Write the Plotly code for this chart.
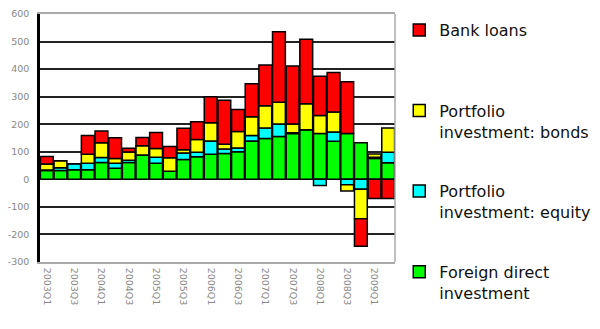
import plotly.graph_objects as go

# Quarters 2003Q1 .. 2009Q2
quarters = [f"{y}Q{q}" for y in range(2003, 2010) for q in range(1, 5)][:26]

# y-axis ticks (plain hyphen minus, as in the original)
y_ticks = [-300, -200, -100, 0, 100, 200, 300, 400, 500, 600]
y_labels = [str(v) for v in y_ticks]

# Values (billions)
fdi = [32, 32, 35, 35, 61, 40, 61, 88, 58, 29, 72, 82, 91, 94, 100, 139,
       148, 155, 166, 180, 166, 138, 166, 133, 76, 60]
equity = [2, 10, 22, 23, 18, 18, 8, 0, 22, 0, 24, 16, 48, 16, 14, 20,
          38, 46, 3, 0, -22, 34, -20, -36, 4, 38]
bonds = [22, 25, 0, 33, 54, 18, 30, 34, 32, 49, 11, 47, 66, 17, 60, 68,
         81, 79, 32, 94, 66, 72, -22, -107, 12, 88]
loans = [27, 0, 0, 68, 42, 75, 14, 30, 58, 41, 78, 64, 95, 160, 79, 120,
         148, 256, 210, 234, 142, 144, 188, -100, -70, -70]

series = [
    ("Foreign direct<br>investment", fdi, "#00FF00"),
    ("Portfolio<br>investment: equity", equity, "#00FFFF"),
    ("Portfolio<br>investment: bonds", bonds, "#FFFF00"),
    ("Bank loans<br> ", loans, "#FF0000"),
]

fig = go.Figure()
for i, (name, vals, col) in enumerate(series):
    fig.add_trace(go.Bar(
        x=quarters, y=vals, name=name, legendgroup=str(i),
        legendrank=len(series) - i,
        marker=dict(color=col, line=dict(color="black", width=1.5)),
    ))

# page body has an 8px margin, so the figure is 8px smaller each way
fig.update_layout(
    barmode="relative",
    bargap=0.06,
    width=592, height=321,
    margin=dict(l=32, r=205, t=6, b=67, autoexpand=False),
    paper_bgcolor="white",
    plot_bgcolor="white",
    font=dict(family="DejaVu Sans", color="#111"),
    legend=dict(
        x=1.012, xanchor="left", y=1.004, yanchor="top",
        traceorder="grouped", tracegroupgap=36,
        valign="top", itemwidth=30, maxheight=400,
        bgcolor="rgba(0,0,0,0)",
        font=dict(family="DejaVu Sans", size=16, color="#111"),
    ),
    showlegend=True,
)

fig.update_xaxes(
    tickmode="array", tickvals=quarters[::2], ticktext=quarters[::2],
    tickangle=90, ticks="", ticklabelstandoff=2, automargin=False,
    tickfont=dict(size=9.5, color="#888"),
    showline=True, linecolor="#aaa", linewidth=1.5, mirror=True,
    showgrid=False,
)
fig.update_yaxes(
    range=[-300, 600], tickmode="array", tickvals=y_ticks, ticktext=y_labels,
    automargin=False,
    tickfont=dict(size=9.5, color="#888"), ticks="", ticklabelstandoff=6,
    showgrid=True, gridcolor="#222", gridwidth=1.5,
    zeroline=False,
    showline=True, linecolor="black", linewidth=2.5,
)
# grey right-hand frame edge
fig.add_shape(type="line", xref="paper", yref="paper", x0=1, x1=1, y0=0, y1=1,
              line=dict(color="#aaa", width=1.5))

fig.write_html("out.html")
